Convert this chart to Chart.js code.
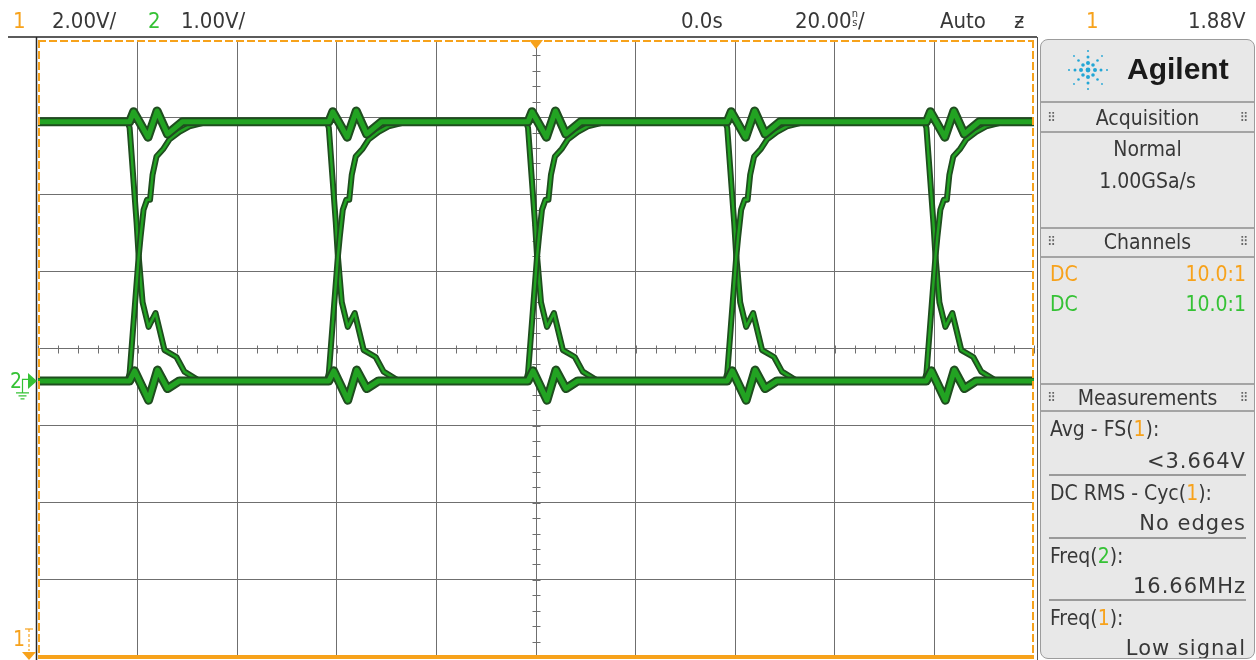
<!DOCTYPE html>
<html>
<head>
<meta charset="utf-8">
<script src="https://cdn.jsdelivr.net/npm/chart.js@4.4.1/dist/chart.umd.min.js"></script>
<style>
  body { margin: 0; background: #fff; }
  #wrap { position: relative; width: 1256px; height: 660px; overflow: hidden;
          font-family: "DejaVu Sans Condensed", "DejaVu Sans", sans-serif; color: #383838; }
  #graph { position: absolute; left: 0; top: 0; }
  .t { position: absolute; font-size: 22px; line-height: 24px; white-space: nowrap; }
  .or { color: #f7a21b; }
  .gr { color: #35c235; }
  .stk { display: inline-block; font-size: 11px; line-height: 9px; vertical-align: 2px; text-align: center; }
  #panel { position: absolute; left: 1040px; top: 39px; width: 213px; height: 618px;
           border: 1px solid #9c9c9c; border-radius: 8px; background: #e8e8e8; overflow: hidden; }
  .row { position: absolute; left: 0; right: 0; font-size: 21px; line-height: 24px; white-space: nowrap; }
  .c { text-align: center; }
  .l { left: 9px; }
  .r { right: 8px; left: auto; text-align: right; }
  .hl { position: absolute; left: 0; right: 0; height: 2px; background: #a4a4a4; }
  .ml { position: absolute; left: 8px; right: 8px; height: 2px; background: #9a9a9a; }
  .grip { position: absolute; font-size: 13px; line-height: 24px; color: #666; }
  .mono { font-family: "DejaVu Sans", sans-serif; letter-spacing: 1px; }
</style>
</head>
<body>
<div id="wrap">
  <canvas id="graph" width="1256" height="660"></canvas>

  <div class="t or" style="left:13px;top:9px">1</div>
  <div class="t" style="left:52px;top:9px">2.00V/</div>
  <div class="t gr" style="left:148px;top:9px">2</div>
  <div class="t" style="left:181px;top:9px">1.00V/</div>
  <div class="t" style="left:681px;top:9px">0.0s</div>
  <div class="t" style="left:795px;top:9px">20.00<span class="stk">n<br>s</span>/</div>
  <div class="t" style="left:940px;top:9px">Auto</div>
  <div class="t" style="left:1014px;top:9px">ƶ</div>
  <div class="t or" style="left:1086px;top:9px">1</div>
  <div class="t" style="left:1188px;top:9px">1.88V</div>

  <div class="t gr" style="left:10px;top:369px;font-size:21px">2</div>
  <div class="t or" style="left:13px;top:627px;font-size:21px">1</div>

  <div id="panel">
    <svg style="position:absolute;left:24px;top:7px" width="46" height="46" viewBox="-23 -23 46 46">
      <g fill="#23a6d5">
        <circle cx="0" cy="0" r="2.4"/>
        <circle cx="0" cy="-7" r="2"/><circle cx="0" cy="7" r="2"/>
        <circle cx="-7" cy="0" r="2"/><circle cx="7" cy="0" r="2"/>
        <circle cx="-5" cy="-5" r="1.8"/><circle cx="5" cy="5" r="1.8"/>
        <circle cx="5" cy="-5" r="1.8"/><circle cx="-5" cy="5" r="1.8"/>
        <circle cx="0" cy="-13" r="1.5"/><circle cx="0" cy="13" r="1.5"/>
        <circle cx="-13" cy="0" r="1.5"/><circle cx="13" cy="0" r="1.5"/>
        <circle cx="-9.5" cy="-9.5" r="1.3"/><circle cx="9.5" cy="9.5" r="1.3"/>
        <circle cx="9.5" cy="-9.5" r="1.3"/><circle cx="-9.5" cy="9.5" r="1.3"/>
        <circle cx="0" cy="-19" r="1"/><circle cx="0" cy="19" r="1"/>
        <circle cx="-19" cy="0" r="1"/><circle cx="19" cy="0" r="1"/>
        <circle cx="-14" cy="-14" r="0.9"/><circle cx="14" cy="14" r="0.9"/>
        <circle cx="14" cy="-14" r="0.9"/><circle cx="-14" cy="14" r="0.9"/>
      </g>
    </svg>
    <div class="row" style="left:86px;top:12px;font-family:'Liberation Sans',Arial,sans-serif;font-weight:bold;font-size:30px;line-height:34px;color:#1a1a1a">Agilent</div>
    <div class="hl" style="top:61px"></div>
    <div class="grip" style="left:6px;top:66px">⠿</div><div class="grip" style="right:6px;top:66px">⠿</div>
    <div class="row c" style="top:66px">Acquisition</div>
    <div class="hl" style="top:91px"></div>
    <div class="row c" style="top:97px">Normal</div>
    <div class="row c" style="top:129px">1.00GSa/s</div>
    <div class="hl" style="top:187px"></div>
    <div class="grip" style="left:6px;top:190px">⠿</div><div class="grip" style="right:6px;top:190px">⠿</div>
    <div class="row c" style="top:190px">Channels</div>
    <div class="hl" style="top:216px"></div>
    <div class="row l or" style="top:222px">DC</div><div class="row r or" style="top:222px">10.0:1</div>
    <div class="row l gr" style="top:252px">DC</div><div class="row r gr" style="top:252px">10.0:1</div>
    <div class="hl" style="top:343px"></div>
    <div class="grip" style="left:6px;top:346px">⠿</div><div class="grip" style="right:6px;top:346px">⠿</div>
    <div class="row c" style="top:346px">Measurements</div>
    <div class="hl" style="top:370px"></div>
    <div class="row l" style="top:377px">Avg - FS(<span class="or">1</span>):</div>
    <div class="row r mono" style="top:409px">&lt;3.664V</div>
    <div class="ml" style="top:434px"></div>
    <div class="row l" style="top:441px">DC RMS - Cyc(<span class="or">1</span>):</div>
    <div class="row r mono" style="top:471px">No edges</div>
    <div class="ml" style="top:497px"></div>
    <div class="row l" style="top:504px">Freq(<span class="gr">2</span>):</div>
    <div class="row r mono" style="top:534px">16.66MHz</div>
    <div class="ml" style="top:559px"></div>
    <div class="row l" style="top:566px">Freq(<span class="or">1</span>):</div>
    <div class="row r mono" style="top:596px">Low signal</div>
  </div>
</div>

<script>
// screen: 10 divisions of 20 ns, 8 divisions of 1 V (channel 2)
var TIME_MIN = -100, TIME_MAX = 100, TIME_DIV = 20;
var CH2_MIN = -3.58, CH2_MAX = 4.42;   // ground of channel 2 sits 0.42 div below center
var CH1_MIN = 0, CH1_MAX = 16;         // channel 1, 2 V/div, ground at bottom edge

// times (ns) where the eye crosses
var edgeTimes = [-80, -40, 0, 40, 80];
var highLevel = 3.36;
var lowLevel = 0;

// ringing on the trace that stays high (offset from the edge time, ns / volts)
var highRingDt = [-1.6, -0.8, 2.1, 3.9, 6.0, 9.0];
var highRingV = [3.36, 3.49, 3.16, 3.50, 3.20, 3.36];
// ringing on the trace that stays low
var lowRingDt = [-1.6, -0.6, 2.2, 4.0, 6.0, 8.4];
var lowRingV = [0, 0.13, -0.25, 0.14, -0.10, 0];
// falling edge
var fallDt = [-2.0, -1.6, -0.2, 0.2, 1.0, 2.2, 3.6, 5.4, 7.8, 9.4, 12.4];
var fallV = [3.36, 3.28, 2.05, 1.63, 1.02, 0.70, 0.88, 0.40, 0.31, 0.12, 0];
// rising edge
var riseDt = [-2.0, -1.6, 0.2, 0.6, 1.2, 1.9, 2.5, 3.0, 3.8, 5.2, 6.4, 8.4, 10.4, 14.0];
var riseV = [0, 0.10, 1.60, 1.87, 2.22, 2.35, 2.35, 2.67, 2.91, 3.01, 3.13, 3.23, 3.30, 3.36];

// channel 1 (low signal, clipped at bottom)
var ch1Time = [-100, 100];
var ch1Volts = [0, 0];

var ORANGE = "#f7a21b";
var GRID = "#6f6f6f";

function place(dts, vals, t0) {
    return dts.map(function (dt, i) { return { x: t0 + dt, y: vals[i] }; });
}
function levelTrace(level, dts, vals) {
    var pts = [{ x: TIME_MIN, y: level }];
    edgeTimes.forEach(function (t) { pts = pts.concat(place(dts, vals, t)); });
    pts.push({ x: TIME_MAX, y: level });
    return pts;
}
function edgeTrace(dts, vals) {
    var pts = [];
    edgeTimes.forEach(function (t) {
        pts = pts.concat(place(dts, vals, t));
        pts.push({ x: t + 16, y: null });
    });
    return pts;
}

var highPts = levelTrace(highLevel, highRingDt, highRingV);
var lowPts = levelTrace(lowLevel, lowRingDt, lowRingV);
var fallPts = edgeTrace(fallDt, fallV);
var risePts = edgeTrace(riseDt, riseV);
var ch1Pts = ch1Time.map(function (t, i) { return { x: t, y: ch1Volts[i] }; });

// lower "order" is painted later (on top)
function trace(data, color, width, order) {
    return {
        data: data, borderColor: color, borderWidth: width, pointRadius: 0, order: order,
        tension: 0, fill: false, spanGaps: false, borderJoinStyle: "round", borderCapStyle: "round"
    };
}

var OUTLINE = "#1f4d1f", CORE = "#22a322";
var datasets = [
    trace(fallPts, OUTLINE, 6, 8), trace(fallPts, CORE, 2.5, 7),
    trace(risePts, OUTLINE, 6, 6), trace(risePts, CORE, 2.5, 5),
    trace(highPts, OUTLINE, 9, 4), trace(highPts, CORE, 5, 3),
    trace(lowPts, OUTLINE, 9, 2), trace(lowPts, CORE, 5, 1)
];
var ch1Set = trace(ch1Pts, ORANGE, 4, 0);
ch1Set.yAxisID = "y1";
ch1Set.clip = 4;
ch1Set.borderCapStyle = "butt";
datasets.push(ch1Set);

// center axis ticks, screen frame and channel markers
var scopeFrame = {
    id: "scopeFrame",
    beforeDatasetsDraw: function (chart) {
        var c = chart.ctx;
        var xs = chart.scales.x, ys = chart.scales.y;
        var cx = Math.round(xs.getPixelForValue(0)) + 0.5;
        var cy = Math.round(ys.getPixelForValue((CH2_MIN + CH2_MAX) / 2)) + 0.5;
        c.save();
        c.strokeStyle = GRID;
        c.lineWidth = 1;
        c.beginPath();
        for (var t = TIME_MIN; t <= TIME_MAX; t += TIME_DIV / 5) {
            var px = Math.round(xs.getPixelForValue(t)) + 0.5;
            c.moveTo(px, cy - 4); c.lineTo(px, cy + 4);
        }
        for (var k = 0; k <= 40; k++) {
            var py = Math.round(ys.getPixelForValue(CH2_MIN + k * 0.2)) + 0.5;
            c.moveTo(cx - 4, py); c.lineTo(cx + 4, py);
        }
        c.stroke();
        c.restore();
    },
    afterDatasetsDraw: function (chart) {
        var c = chart.ctx, a = chart.chartArea;
        var xs = chart.scales.x, ys = chart.scales.y;
        c.save();
        // outer dark frame
        c.strokeStyle = "#262626";
        c.lineWidth = 1.5;
        c.beginPath();
        c.moveTo(8, 37); c.lineTo(1037, 37);
        c.moveTo(36.5, 37); c.lineTo(36.5, 660);
        c.stroke();
        c.strokeStyle = "#555";
        c.lineWidth = 1;
        c.beginPath();
        c.moveTo(1037.5, 37); c.lineTo(1037.5, 660);
        c.stroke();
        // orange dashed border
        c.strokeStyle = ORANGE;
        c.lineWidth = 2;
        c.setLineDash([8, 3]);
        c.beginPath();
        c.moveTo(a.left, a.top + 1); c.lineTo(a.right, a.top + 1);
        c.moveTo(a.left + 1, a.top); c.lineTo(a.left + 1, a.bottom);
        c.moveTo(a.right - 1, a.top); c.lineTo(a.right - 1, a.bottom);
        c.stroke();
        c.setLineDash([]);
        // trigger position
        var tx = xs.getPixelForValue(0);
        c.fillStyle = ORANGE;
        c.beginPath();
        c.moveTo(tx - 7, a.top); c.lineTo(tx + 7, a.top); c.lineTo(tx, a.top + 9);
        c.closePath(); c.fill();
        // channel 2 ground marker
        var gy = ys.getPixelForValue(0);
        c.fillStyle = "#35c235";
        c.strokeStyle = "#35c235";
        c.beginPath();
        c.moveTo(28, gy - 8); c.lineTo(37, gy); c.lineTo(28, gy + 8);
        c.closePath(); c.fill();
        c.lineWidth = 1.2;
        c.beginPath();
        c.moveTo(22.5, gy + 12); c.lineTo(22.5, gy - 1.5); c.lineTo(29, gy - 1.5);
        c.moveTo(16, gy + 12); c.lineTo(29, gy + 12);
        c.moveTo(18.5, gy + 15); c.lineTo(26.5, gy + 15);
        c.moveTo(20.5, gy + 18); c.lineTo(24.5, gy + 18);
        c.stroke();
        // channel 1 marker (ground below screen)
        c.strokeStyle = ORANGE;
        c.fillStyle = ORANGE;
        c.lineWidth = 1.2;
        c.beginPath();
        c.moveTo(25, a.bottom - 28); c.lineTo(33, a.bottom - 28);
        c.stroke();
        c.setLineDash([3, 2]);
        c.beginPath();
        c.moveTo(29, a.bottom - 28); c.lineTo(29, a.bottom - 6);
        c.stroke();
        c.setLineDash([]);
        c.beginPath();
        c.moveTo(22, a.bottom - 5); c.lineTo(36, a.bottom - 5); c.lineTo(29, a.bottom + 3);
        c.closePath(); c.fill();
        c.restore();
    }
};

var ctx = document.getElementById("graph").getContext("2d");
var scopeChart = new Chart(ctx, {
    type: "line",
    data: { datasets: datasets },
    options: {
        responsive: false,
        animation: false,
        events: [],
        layout: { padding: { left: 38, top: 40, right: 222, bottom: 3 } },
        plugins: { legend: { display: false }, tooltip: { enabled: false } },
        scales: {
            x: {
                type: "linear", min: TIME_MIN, max: TIME_MAX,
                ticks: { display: false, stepSize: TIME_DIV },
                border: { display: false },
                grid: {
                    drawTicks: false, lineWidth: 1,
                    color: function (c) {
                        return (c.tick && Math.abs(c.tick.value) >= TIME_MAX) ? "rgba(0,0,0,0)" : GRID;
                    }
                }
            },
            y: {
                type: "linear", min: CH2_MIN, max: CH2_MAX,
                afterBuildTicks: function (scale) {
                    var ticks = [];
                    for (var k = 0; k <= 8; k++) ticks.push({ value: CH2_MIN + k });
                    scale.ticks = ticks;
                },
                ticks: { display: false },
                border: { display: false },
                grid: {
                    drawTicks: false, lineWidth: 1,
                    color: function (c) {
                        return (c.index === 0 || c.index === 8) ? "rgba(0,0,0,0)" : GRID;
                    }
                }
            },
            y1: { type: "linear", display: false, min: CH1_MIN, max: CH1_MAX }
        }
    },
    plugins: [scopeFrame]
});
</script>
</body>
</html>
